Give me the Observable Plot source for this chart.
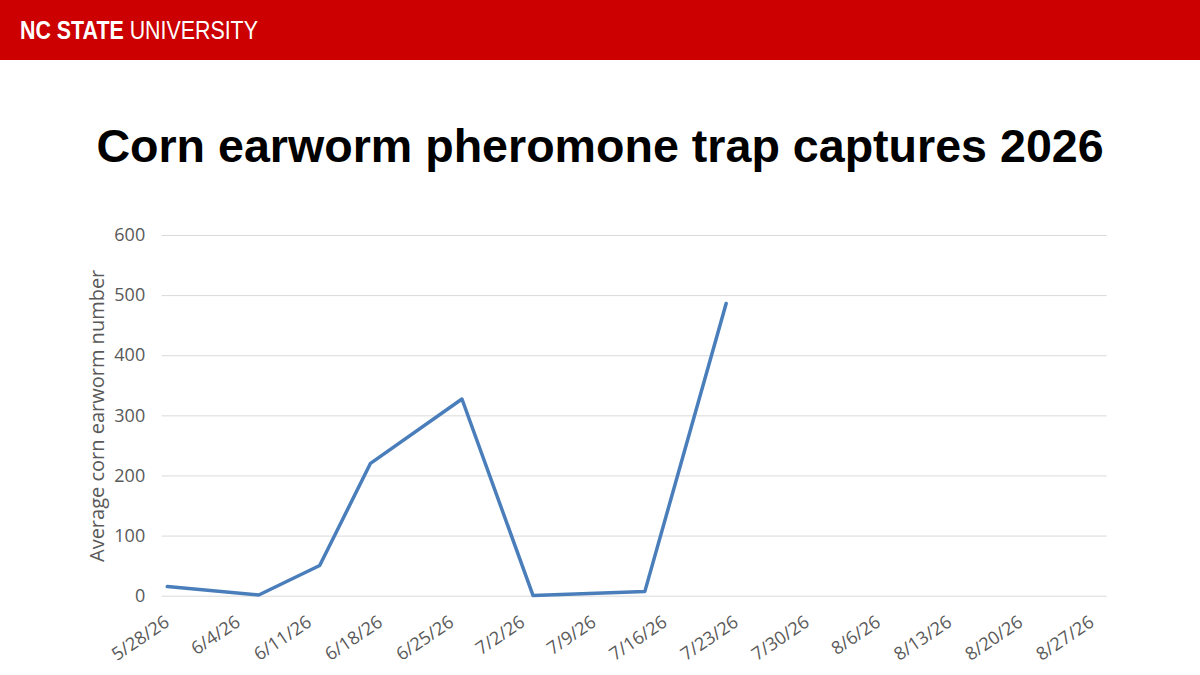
<!DOCTYPE html>
<html>
<head>
<meta charset="utf-8">
<script src="https://cdn.jsdelivr.net/npm/d3@7"></script>
<script src="https://cdn.jsdelivr.net/npm/@observablehq/plot@0.6"></script>
<style>
  html, body { margin: 0; padding: 0; background: #fff; }
  #page { position: relative; width: 1200px; height: 675px; overflow: hidden; background: #fff; }
  #top { position: absolute; left: 0; top: 0; }
  #chart { position: absolute; left: 0; top: 200px; }
</style>
</head>
<body>
<div id="page">
  <svg id="top" width="1200" height="200" xmlns="http://www.w3.org/2000/svg">
    <rect x="0" y="0" width="1200" height="60" fill="#cc0000"></rect>
    <g id="brand" transform="translate(20,39.3)">
      <text id="brandText" x="0" y="0" fill="#fff" font-family="'Liberation Sans Narrow', 'Liberation Sans', Arial, sans-serif" font-size="26"><tspan font-weight="bold">NC STATE</tspan> <tspan font-weight="normal">UNIVERSITY</tspan></text>
    </g>
    <text x="600" y="161.5" text-anchor="middle" fill="#000" font-family="'Liberation Sans', Arial, sans-serif" font-weight="bold" font-size="46.6">Corn earworm pheromone trap captures 2026</text>
  </svg>
  <div id="chart"></div>
</div>
<script>
const sampleDates = ["2026-05-28","2026-06-06","2026-06-12","2026-06-17","2026-06-26","2026-07-03","2026-07-14","2026-07-22"];
const captures = [16, 2, 51, 221, 328, 1, 8, 487];
const tickDates = ["2026-05-28","2026-06-04","2026-06-11","2026-06-18","2026-06-25","2026-07-02","2026-07-09","2026-07-16","2026-07-23","2026-07-30","2026-08-06","2026-08-13","2026-08-20","2026-08-27"];
const yTicks = [0, 100, 200, 300, 400, 500, 600];
const yLabel = "Average corn earworm number";

// fit the header wordmark to its width in the reference
const brandText = document.getElementById("brandText");
const natural = brandText.getComputedTextLength();
const sx = natural > 0 ? 238 / natural : 1;
document.getElementById("brand").setAttribute("transform", `translate(20,39.3) scale(${sx},1)`);

const parse = d3.utcParse("%Y-%m-%d");
const data = sampleDates.map((d, i) => ({date: parse(d), value: captures[i]}));
const ticks = tickDates.map(parse);
const xDomain = [new Date(Date.UTC(2026, 4, 27, 12)), new Date(Date.UTC(2026, 7, 28, 12))];

const chart = Plot.plot({
  width: 1200,
  height: 475,
  marginTop: 35,
  marginBottom: 79.3,
  marginLeft: 161.7,
  marginRight: 93.3,
  style: {fontFamily: "'Open Sans', sans-serif", fontSize: "18px", color: "#595959", background: "transparent"},
  x: {type: "utc", domain: xDomain, ticks: ticks, tickFormat: d3.utcFormat("%-m/%-d/%y"), tickRotate: -34, tickSize: 0, tickPadding: 24, label: null},
  y: {domain: [0, 600], ticks: yTicks, tickSize: 0, tickPadding: 17, label: null},
  marks: [
    Plot.ruleY(yTicks, {stroke: "#d9d9d9", strokeWidth: 1}),
    Plot.lineY(data, {x: "date", y: "value", stroke: "#4a7ebb", strokeWidth: 3.5}),
    Plot.text([yLabel], {frameAnchor: "left", textAnchor: "middle", dx: -65, rotate: -90, text: d => d, fontSize: 20, fill: "#595959"})
  ]
});
document.getElementById("chart").appendChild(chart);
</script>
</body>
</html>
